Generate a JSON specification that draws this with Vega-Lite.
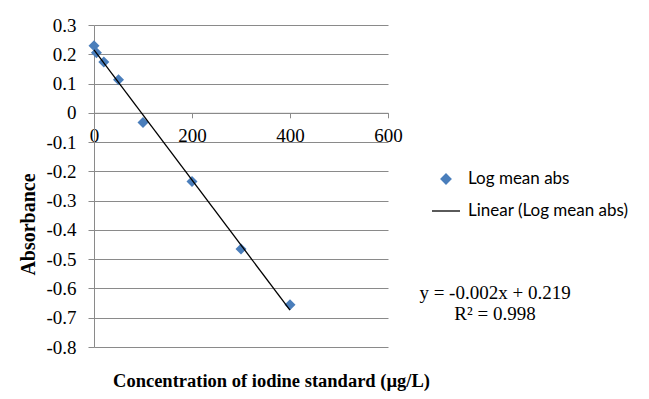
{
  "$schema": "https://vega.github.io/schema/vega-lite/v6.json",
  "width": 294,
  "height": 322,
  "autosize": "none",
  "padding": {"left": 94, "top": 25, "right": 261, "bottom": 52},
  "background": "white",
  "config": {"view": {"stroke": null}, "font": "Liberation Serif"},
  "title": {
    "text": ["y = -0.002x + 0.219", "R² = 0.998"],
    "orient": "top",
    "anchor": "start",
    "frame": "group",
    "align": "center",
    "baseline": "alphabetic",
    "offset": 0,
    "dx": 401,
    "dy": 322.5,
    "font": "Liberation Serif",
    "fontSize": 19,
    "fontWeight": "normal",
    "lineHeight": 21,
    "color": "#000000"
  },
  "data": {
    "values": [
      {"conc": 0, "absorbance": 0.229},
      {"conc": 5, "absorbance": 0.205},
      {"conc": 20, "absorbance": 0.174},
      {"conc": 50, "absorbance": 0.113},
      {"conc": 100, "absorbance": -0.033},
      {"conc": 200, "absorbance": -0.235},
      {"conc": 300, "absorbance": -0.465},
      {"conc": 400, "absorbance": -0.656}
    ]
  },
  "encoding": {
    "x": {
      "field": "conc",
      "type": "quantitative",
      "scale": {"domain": [0, 600], "nice": false, "zero": false},
      "axis": {
        "orient": "bottom",
        "offset": -234.2,
        "values": [0, 200, 400, 600],
        "grid": false,
        "domainColor": "#8A8A8A",
        "tickColor": "#8A8A8A",
        "tickSize": 5,
        "labelFont": "Liberation Serif",
        "labelFontSize": 19,
        "labelColor": "#000000",
        "labelPadding": 9,
        "labelFlush": false,
        "labelOverlap": false,
        "title": "Concentration of iodine standard (µg/L)",
        "titleFont": "Liberation Serif",
        "titleFontSize": 18.5,
        "titleFontWeight": "bold",
        "titleColor": "#000000",
        "titleX": 177,
        "titleY": 274,
        "titleBaseline": "alphabetic"
      }
    },
    "y": {
      "field": "absorbance",
      "type": "quantitative",
      "scale": {"domain": [-0.8, 0.3], "nice": false, "zero": false},
      "axis": {
        "values": [-0.8, -0.7, -0.6, -0.5, -0.4, -0.3, -0.2, -0.1, 0, 0.1, 0.2, 0.3],
        "grid": true,
        "gridColor": "#8A8A8A",
        "gridWidth": 1,
        "domainColor": "#8A8A8A",
        "tickColor": "#8A8A8A",
        "tickSize": 6,
        "labelFont": "Liberation Serif",
        "labelFontSize": 19,
        "labelColor": "#000000",
        "labelPadding": 12,
        "labelExpr": "toString(round(datum.value * 10) / 10)",
        "labelFlush": false,
        "labelOverlap": false,
        "title": "Absorbance",
        "titleFont": "Liberation Serif",
        "titleFontSize": 20,
        "titleFontWeight": "bold",
        "titleColor": "#000000",
        "titleAngle": 270,
        "titleX": -66,
        "titleY": 199,
        "titleBaseline": "middle"
      }
    }
  },
  "layer": [
    {
      "mark": {"type": "point", "shape": "diamond", "filled": true, "size": 121, "opacity": 1},
      "encoding": {
        "color": {
          "datum": "Log mean abs",
          "type": "nominal",
          "scale": {
            "domain": ["Log mean abs", "Linear (Log mean abs)"],
            "range": ["#4A7EBB", "#000000"]
          },
          "legend": {
            "title": null,
            "orient": "none",
            "legendX": 337,
            "legendY": 139,
            "direction": "vertical",
            "padding": 0,
            "symbolSize": 784,
            "symbolStrokeWidth": 1.3,
            "labelFont": "Lato",
            "labelFontSize": 17,
            "labelColor": "#000000",
            "labelOffset": 7,
            "labelLimit": 400,
            "rowPadding": 9,
            "encode": {
              "symbols": {
                "update": {
                  "shape": {"signal": "datum.value === 'Log mean abs' ? 'diamond' : 'stroke'"},
                  "size": {"signal": "datum.value === 'Log mean abs' ? 100 : 784"},
                  "fill": {"signal": "datum.value === 'Log mean abs' ? '#4A7EBB' : 'transparent'"},
                  "stroke": {"signal": "datum.value === 'Log mean abs' ? 'transparent' : '#000000'"},
                  "strokeWidth": {"value": 1.3},
                  "opacity": {"value": 1}
                }
              }
            }
          }
        }
      }
    },
    {
      "transform": [{"regression": "absorbance", "on": "conc"}],
      "mark": {"type": "line", "strokeWidth": 1.3},
      "encoding": {
        "color": {
          "datum": "Linear (Log mean abs)",
          "type": "nominal",
          "legend": {
            "title": null,
            "orient": "none",
            "legendX": 337,
            "legendY": 139,
            "direction": "vertical",
            "padding": 0,
            "symbolSize": 784,
            "symbolStrokeWidth": 1.3,
            "labelFont": "Lato",
            "labelFontSize": 17,
            "labelColor": "#000000",
            "labelOffset": 7,
            "labelLimit": 400,
            "rowPadding": 9,
            "encode": {
              "symbols": {
                "update": {
                  "shape": {"signal": "datum.value === 'Log mean abs' ? 'diamond' : 'stroke'"},
                  "size": {"signal": "datum.value === 'Log mean abs' ? 100 : 784"},
                  "fill": {"signal": "datum.value === 'Log mean abs' ? '#4A7EBB' : 'transparent'"},
                  "stroke": {"signal": "datum.value === 'Log mean abs' ? 'transparent' : '#000000'"},
                  "strokeWidth": {"value": 1.3},
                  "opacity": {"value": 1}
                }
              }
            }
          }
        }
      }
    }
  ]
}
